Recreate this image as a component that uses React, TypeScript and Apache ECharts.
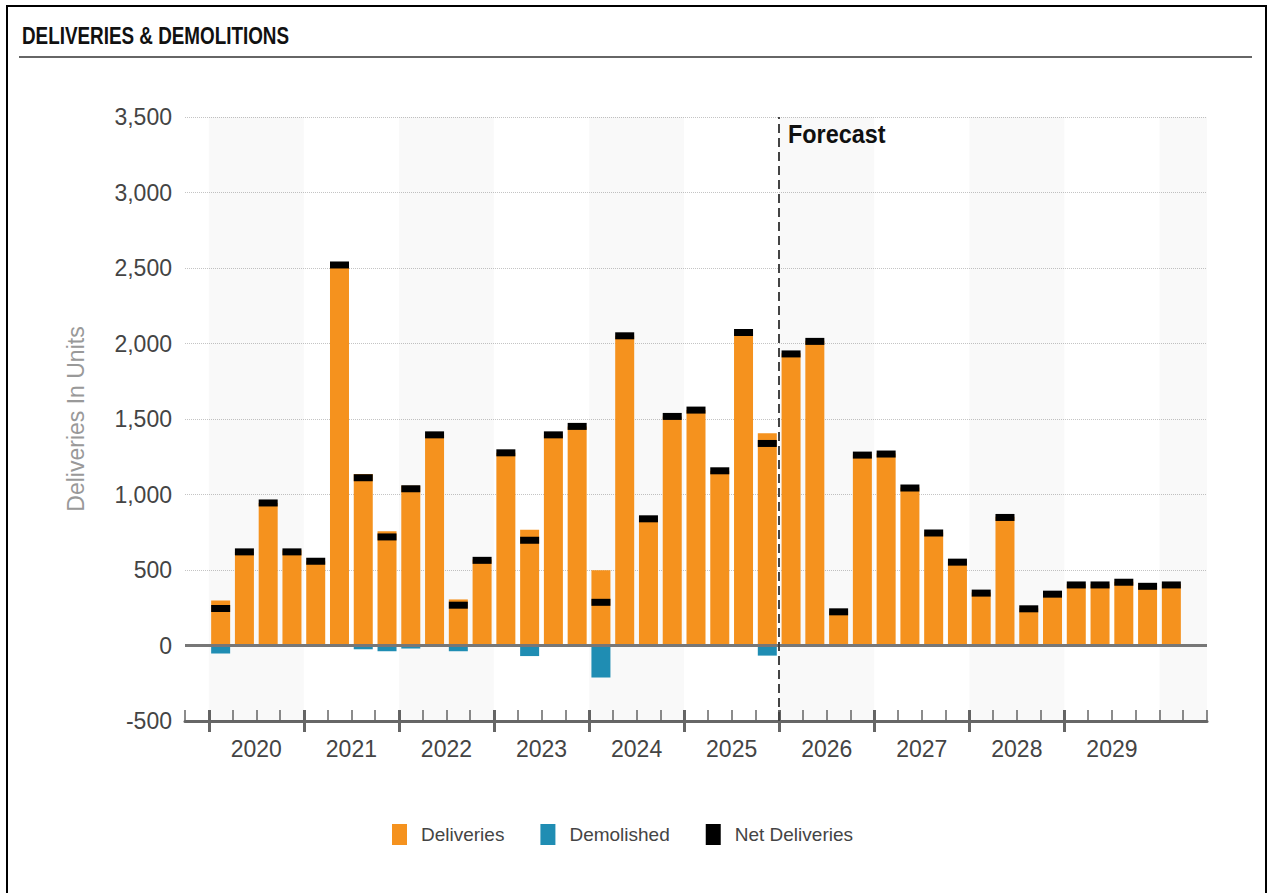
import React, { useEffect, useRef } from "react";
import * as echarts from "echarts";

// ---------- data ----------
const quarters = [
  "2020 Q1", "2020 Q2", "2020 Q3", "2020 Q4",
  "2021 Q1", "2021 Q2", "2021 Q3", "2021 Q4",
  "2022 Q1", "2022 Q2", "2022 Q3", "2022 Q4",
  "2023 Q1", "2023 Q2", "2023 Q3", "2023 Q4",
  "2024 Q1", "2024 Q2", "2024 Q3", "2024 Q4",
  "2025 Q1", "2025 Q2", "2025 Q3", "2025 Q4",
  "2026 Q1", "2026 Q2", "2026 Q3", "2026 Q4",
  "2027 Q1", "2027 Q2", "2027 Q3", "2027 Q4",
  "2028 Q1", "2028 Q2", "2028 Q3", "2028 Q4",
  "2029 Q1", "2029 Q2", "2029 Q3", "2029 Q4",
  "2030 Q1",
];

const deliveries = [
  298, 620, 944, 630,
  558, 2520, 1136, 757,
  1058, 1395, 305, 569,
  1276, 767, 1395, 1451,
  498, 2051, 839, 1517,
  1559, 1157, 2073, 1405,
  1935, 2018, 227, 1265,
  1272, 1047, 749, 556,
  351, 852, 247, 344,
  405, 405, 423, 396,
  405,
];

const demolished = [
  -53, 0, 0, -10,
  0, 0, -25, -38,
  -20, 0, -38, -5,
  0, -70, 0, 0,
  -212, 0, 0, 0,
  0, 0, 0, -67,
  -4, -4, -4, -4,
  -4, -4, -4, -4,
  -4, -4, -4, -4,
  -4, -4, -4, -4,
  -4,
];

const netDeliveries = [
  245, 620, 944, 620,
  558, 2520, 1111, 719,
  1038, 1395, 267, 564,
  1276, 697, 1395, 1451,
  286, 2051, 839, 1517,
  1559, 1157, 2073, 1338,
  1931, 2014, 223, 1261,
  1268, 1043, 745, 552,
  347, 848, 243, 340,
  401, 401, 419, 392,
  401,
];

const yearLabels = ["2020", "2021", "2022", "2023", "2024", "2025", "2026", "2027", "2028", "2029"];
const forecastStart = "2026 Q1";
const shadedYears = ["2020", "2022", "2024", "2026", "2028", "2030"];

// axis padding slots (empty quarter before and after the data)
const axisCats = ["2019 Q4", ...quarters, "2030 Q2"];
const boundaries = [...axisCats.map((c) => "start " + c), "end"];

const ORANGE = "#F5921E";
const TEAL = "#1F8DB3";
const FONT = '"Liberation Sans", Arial, Helvetica, sans-serif';

export default function App() {
  const ref = useRef<HTMLDivElement>(null);

  useEffect(() => {
    if (!ref.current) return;
    const chart = echarts.init(ref.current, undefined, { renderer: "svg" });

    const boundaryOf = (cat: string) => boundaries[axisCats.indexOf(cat)];
    const endBoundary = (year: string) => {
      const next = String(Number(year) + 1) + " Q1";
      const idx = axisCats.indexOf(next);
      return idx >= 0 ? boundaries[idx] : boundaries[boundaries.length - 1];
    };
    const isYearStart = (idx: number) => {
      const name = boundaries[idx];
      return yearLabels.some((y) => name === "start " + y + " Q1");
    };
    const yearFormatter = (_v: string, idx: number) => {
      const name = boundaries[idx];
      const m = /^start (\d{4}) Q3$/.exec(name || "");
      if (m && yearLabels.indexOf(m[1]) >= 0) return m[1];
      return "";
    };

    const bands = shadedYears.map((y) => [
      { xAxis: boundaryOf(y + " Q1") },
      { xAxis: endBoundary(y) },
    ]);

    const tickColor = "#666";

    chart.setOption({
      animation: false,
      textStyle: { fontFamily: FONT },
      grid: { left: 185, right: 65, top: 117, bottom: 172 },
      legend: {
        left: 387,
        top: 819,
        itemWidth: 15,
        itemHeight: 21,
        itemGap: 36,
        icon: "rect",
        selectedMode: false,
        textStyle: { fontSize: 19, color: "#444", fontFamily: FONT, padding: [0, 0, 0, 9] },
        data: ["Deliveries", "Demolished", "Net Deliveries"],
      },
      xAxis: [
        {
          type: "category",
          data: axisCats,
          position: "bottom",
          boundaryGap: true,
          axisLine: { show: true, onZero: false, lineStyle: { color: tickColor, width: 3 } },
          axisTick: { show: false },
          axisLabel: { show: false },
          splitLine: { show: false },
        },
        {
          type: "category",
          data: boundaries,
          position: "bottom",
          boundaryGap: false,
          axisLine: { show: false, onZero: false },
          axisTick: { show: true, inside: true, length: 11, interval: 0, lineStyle: { color: tickColor, width: 1.5 } },
          axisLabel: { show: false },
          splitLine: { show: false },
        },
        {
          type: "category",
          data: boundaries,
          position: "bottom",
          boundaryGap: false,
          axisLine: { show: false, onZero: false },
          axisTick: { show: true, inside: true, length: 11, interval: isYearStart, lineStyle: { color: tickColor, width: 3 } },
          axisLabel: { show: false },
          splitLine: { show: false },
        },
        {
          type: "category",
          data: boundaries,
          position: "bottom",
          boundaryGap: false,
          axisLine: { show: false, onZero: false },
          axisTick: { show: true, inside: false, length: 11, interval: isYearStart, lineStyle: { color: tickColor, width: 3 } },
          axisLabel: {
            show: true,
            interval: 0,
            formatter: yearFormatter,
            fontSize: 23,
            color: "#444",
            margin: 16,
            fontFamily: FONT,
          },
          splitLine: { show: false },
        },
      ],
      yAxis: {
        type: "value",
        min: -500,
        max: 3500,
        interval: 500,
        name: "Deliveries In Units",
        nameLocation: "middle",
        nameGap: 98,
        nameTextStyle: { fontSize: 23, color: "#999", fontFamily: FONT },
        axisLine: { show: false },
        axisTick: { show: false },
        axisLabel: {
          fontSize: 23,
          color: "#444",
          margin: 13,
          fontFamily: FONT,
          formatter: (v: number) => v.toLocaleString("en-US"),
        },
        splitLine: { lineStyle: { type: "dotted", color: "#c4c4c4", width: 1 } },
      },
      series: [
        {
          type: "line",
          xAxisIndex: 1,
          yAxisIndex: 0,
          data: [],
          silent: true,
          z: 1,
          markArea: {
            silent: true,
            itemStyle: { color: "rgba(0,0,0,0.025)" },
            data: bands,
          },
          markLine: {
            silent: true,
            symbol: "none",
            label: { show: false },
            data: [
              { yAxis: 0, lineStyle: { color: "#777", width: 3, type: "solid" } },
              { xAxis: boundaryOf(forecastStart), lineStyle: { color: "#444", width: 2, type: [9, 5] } },
            ],
          },
        },
        {
          name: "Deliveries",
          type: "bar",
          xAxisIndex: 0,
          data: quarters.map((q, i) => [q, deliveries[i]]),
          barWidth: 19,
          barGap: "-100%",
          itemStyle: { color: ORANGE },
          z: 2,
        },
        {
          name: "Demolished",
          type: "bar",
          xAxisIndex: 0,
          data: quarters.map((q, i) => [q, demolished[i]]),
          barWidth: 19,
          barGap: "-100%",
          itemStyle: { color: TEAL },
          z: 2,
        },
        {
          name: "Net Deliveries",
          type: "scatter",
          xAxisIndex: 0,
          data: quarters.map((q, i) => [q, netDeliveries[i]]),
          symbol: "rect",
          symbolSize: [19, 7],
          itemStyle: { color: "#000", opacity: 1 },
          z: 3,
        },
      ],
      graphic: [
        {
          type: "rect",
          silent: true,
          shape: { x: 7, y: 6, width: 1259, height: 910 },
          style: { fill: "none", stroke: "#000", lineWidth: 2 },
        },
        {
          type: "text",
          x: 22,
          y: 36,
          scaleX: 0.82,
          style: {
            text: "DELIVERIES & DEMOLITIONS",
            fill: "#111",
            fontSize: 23,
            fontWeight: "bold",
            fontFamily: FONT,
            verticalAlign: "middle",
          },
        },
        {
          type: "line",
          silent: true,
          shape: { x1: 19, y1: 57, x2: 1252, y2: 57 },
          style: { stroke: "#333", lineWidth: 1.5 },
        },
        {
          type: "text",
          x: 788,
          y: 134,
          scaleX: 0.9,
          style: {
            text: "Forecast",
            fill: "#111",
            fontSize: 26,
            fontWeight: "bold",
            fontFamily: FONT,
            verticalAlign: "middle",
          },
        },
      ],
    });

    return () => chart.dispose();
  }, []);

  return (
    <div
      ref={ref}
      style={{ position: "fixed", left: 0, top: 0, width: 1272, height: 893, background: "#fff" }}
    />
  );
}
